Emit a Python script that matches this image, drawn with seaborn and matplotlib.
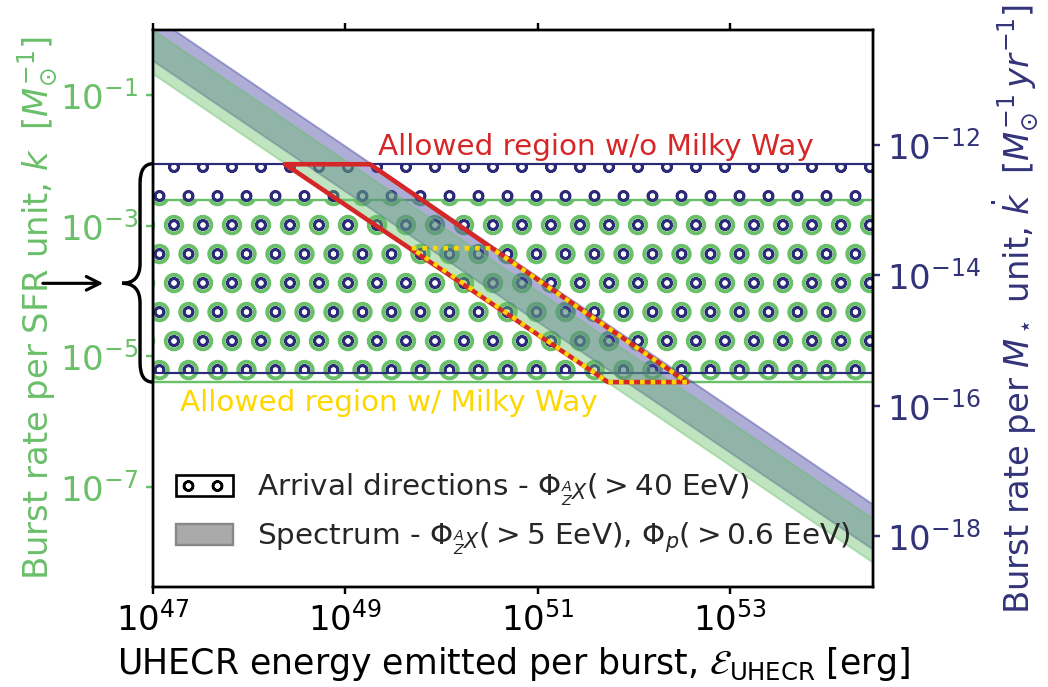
import numpy as np
import matplotlib
matplotlib.use("Agg")
import matplotlib.pyplot as plt
import matplotlib.hatch as mhatch
import seaborn as sns
import pandas as pd
from matplotlib.path import Path
from matplotlib.patches import PathPatch, Patch
from matplotlib.transforms import blended_transform_factory

# ---------------- data ----------------
x_ticks = [1e47, 1e49, 1e51, 1e53]
left_ticks = [1e-1, 1e-3, 1e-5, 1e-7]
right_ticks = [1e-12, 1e-14, 1e-16, 1e-18]
x_lim = [1e47, 3.05e54]
left_lim = [2.95e-9, 1.0]
right_over_left = 5.69e-11          # right-axis value = left-axis value * ratio

# Spectrum bands: burst rate at the two ends of the energy range
band_E = [1e46, 1e55]
green_band_lo = [2.14, 2.14e-9]     # per SFR unit (left axis)
green_band_hi = [10.0, 1.0e-8]
purple_band_lo = [1.93e-10, 1.93e-19]   # per M* unit (right axis)
purple_band_hi = [9.44e-10, 9.44e-19]

# Arrival-direction ranges
green_hatch_k = [4.05e-6, 2.47e-3]       # left axis
navy_hatch_kdot = [3.2e-16, 5.1e-13]     # right axis

# Allowed regions (polygon vertices: energy, k on left axis)
red_E = [2.36e48, 1.80e49, 3.56e52, 5.37e51, 2.36e48]
red_k = [8.8e-3, 8.8e-3, 4.05e-6, 4.05e-6, 8.8e-3]
yel_E = [4.9e49, 3.3e50, 3.56e52, 5.37e51, 4.9e49]
yel_k = [4.55e-4, 4.55e-4, 4.05e-6, 4.05e-6, 4.55e-4]

brace_tip_k = 1.32e-4

# ---------------- style ----------------
sns.set_theme(style="ticks")
plt.rcParams["font.family"] = ["DejaVu Sans"]
plt.rcParams["mathtext.fontset"] = "dejavusans"

# circle-hatch geometry (ring sizes and row phase)
mhatch.SmallCircles.size = 0.16
mhatch.LargeCircles.size = 0.30
HATCH_DY = 0.040
_orig_set = mhatch.Circles.set_vertices_and_codes


def _shifted_set(self, vertices, codes):
    _orig_set(self, vertices, codes)
    vertices[:, 1] += HATCH_DY


mhatch.Circles.set_vertices_and_codes = _shifted_set

GREEN = "#6abf69"
NAVY = "#33337a"
HATCH_NAVY = "#2b2b78"
PURPLE = "#4a4aa5"
RED = "#d62728"
YELLOW = "#ffd700"

DPI = 174
fig = plt.figure(figsize=(1048 / DPI, 687 / DPI), dpi=DPI)
ax = fig.add_axes([0.146, 0.1456, 0.687, 0.8107])

ax.set_xscale("log")
ax.set_yscale("log")
ax.set_xlim(*x_lim)
ax.set_ylim(*left_lim)

to_left = lambda v: np.asarray(v, dtype=float) / right_over_left

# hatched regions
with plt.rc_context({"hatch.linewidth": 1.25}):
    g = ax.fill_between(x_lim, green_hatch_k[0], green_hatch_k[1], facecolor="none",
                        edgecolor=GREEN, hatch="O", linewidth=1.0, zorder=1)
if hasattr(g, "set_hatch_linewidth"):
    g.set_hatch_linewidth(1.25)
with plt.rc_context({"hatch.linewidth": 1.1}):
    n = ax.fill_between(x_lim, *to_left(navy_hatch_kdot), facecolor="none",
                        edgecolor=HATCH_NAVY, hatch="o", linewidth=0.9, zorder=2)
if hasattr(n, "set_hatch_linewidth"):
    n.set_hatch_linewidth(1.1)

# spectrum bands
ax.fill_between(band_E, to_left(purple_band_lo), to_left(purple_band_hi),
                facecolor=PURPLE, edgecolor=PURPLE, alpha=0.45, linewidth=0.8, zorder=3)
ax.fill_between(band_E, green_band_lo, green_band_hi,
                facecolor=GREEN, edgecolor=GREEN, alpha=0.42, linewidth=0.8, zorder=4)

# allowed regions
red_df = pd.DataFrame({"E": red_E, "k": red_k})
yel_df = pd.DataFrame({"E": yel_E, "k": yel_k})
sns.lineplot(data=red_df, x="E", y="k", sort=False, estimator=None, color=RED,
             linewidth=1.9, ax=ax, zorder=6)
l2 = sns.lineplot(data=yel_df, x="E", y="k", sort=False, estimator=None, color=YELLOW,
                  linewidth=1.9, ax=ax, zorder=7)
l2.lines[-1].set_dashes([1.0, 1.3])

ax.text(4.0e51, 1.6e-2, "Allowed region w/o Milky Way", color=RED, fontsize=12.2,
        ha="center", va="center", zorder=8)
ax.text(2.8e49, 1.95e-6, "Allowed region w/ Milky Way", color=YELLOW, fontsize=12.2,
        ha="center", va="center", zorder=8)

# axes styling
ax.set_xticks(x_ticks)
ax.set_yticks(left_ticks)
ax.minorticks_off()
ax.xaxis.set_ticks_position("both")
ax.tick_params(axis="x", labelsize=14, colors="black", length=3, width=1.0, pad=3)
ax.tick_params(axis="y", labelsize=14, colors=GREEN, length=3, width=1.0, pad=3)
for s in ax.spines.values():
    s.set_color("black")
    s.set_linewidth(1.0)
ax.set_xlabel(r"UHECR energy emitted per burst, $\mathcal{E}_{\rm UHECR}$ [erg]",
              fontsize=14.4, color="black", labelpad=3)
ax.set_ylabel(r"Burst rate per SFR unit, $k$  $[M_{\odot}^{-1}]$", fontsize=14,
              color=GREEN, labelpad=0)

ax2 = ax.twinx()
ax2.set_yscale("log")
ax2.set_ylim(left_lim[0] * right_over_left, left_lim[1] * right_over_left)
ax2.set_yticks(right_ticks)
ax2.minorticks_off()
ax2.tick_params(axis="y", labelsize=14, colors=NAVY, length=3, width=1.0, pad=3)
ax2.set_ylabel(r"Burst rate per $M_\star$ unit, $\dot{k}$  $[M_{\odot}^{-1}\,yr^{-1}]$",
               fontsize=14, color=NAVY, labelpad=4)
for s in ax2.spines.values():
    s.set_color("black")
    s.set_linewidth(1.0)

# brace + arrow
tr = blended_transform_factory(ax.transAxes, ax.transData)
yT = float(to_left(navy_hatch_kdot[1]))
yB = green_hatch_k[0]
yM = brace_tip_k
f = 10 ** 0.3
xe, xt = -0.018, -0.043
verts = [(0, yT), (xe, yT), (xe, yT / f), (xe, yM * f), (xe, yM), (xt, yM),
         (xe, yM), (xe, yM / f), (xe, yB * f), (xe, yB), (0, yB)]
codes = [Path.MOVETO, Path.CURVE3, Path.CURVE3, Path.LINETO, Path.CURVE3, Path.CURVE3,
         Path.CURVE3, Path.CURVE3, Path.LINETO, Path.CURVE3, Path.CURVE3]
brace = PathPatch(Path(verts, codes), transform=tr, facecolor="none",
                  edgecolor="black", linewidth=1.4, clip_on=False)
ax.add_patch(brace)
ax.annotate("", xy=(-0.069, yM), xycoords=tr, xytext=(-0.153, yM), textcoords=tr,
            arrowprops=dict(arrowstyle="->", color="black", lw=1.3,
                            shrinkA=0, shrinkB=0, mutation_scale=14),
            annotation_clip=False)

# legend
handles = [Patch(facecolor="white", edgecolor="black", hatch="o", linewidth=1.1),
           Patch(facecolor="#aaaaaa", edgecolor="#888888", linewidth=1.0)]
labels = [r"Arrival directions - $\Phi_{^{A}_{Z}X}( > 40$ EeV$)$",
          r"Spectrum - $\Phi_{^{A}_{Z}X}( > 5$ EeV$)$, $\Phi_{p}( > 0.6$ EeV$)$"]
ax2.legend(handles, labels, loc="lower left", bbox_to_anchor=(-0.005, 0.006),
           frameon=False, fontsize=12.2, handlelength=1.95, handleheight=0.74,
           labelspacing=0.42, handletextpad=0.8)

fig.savefig("out.png", dpi=DPI)
